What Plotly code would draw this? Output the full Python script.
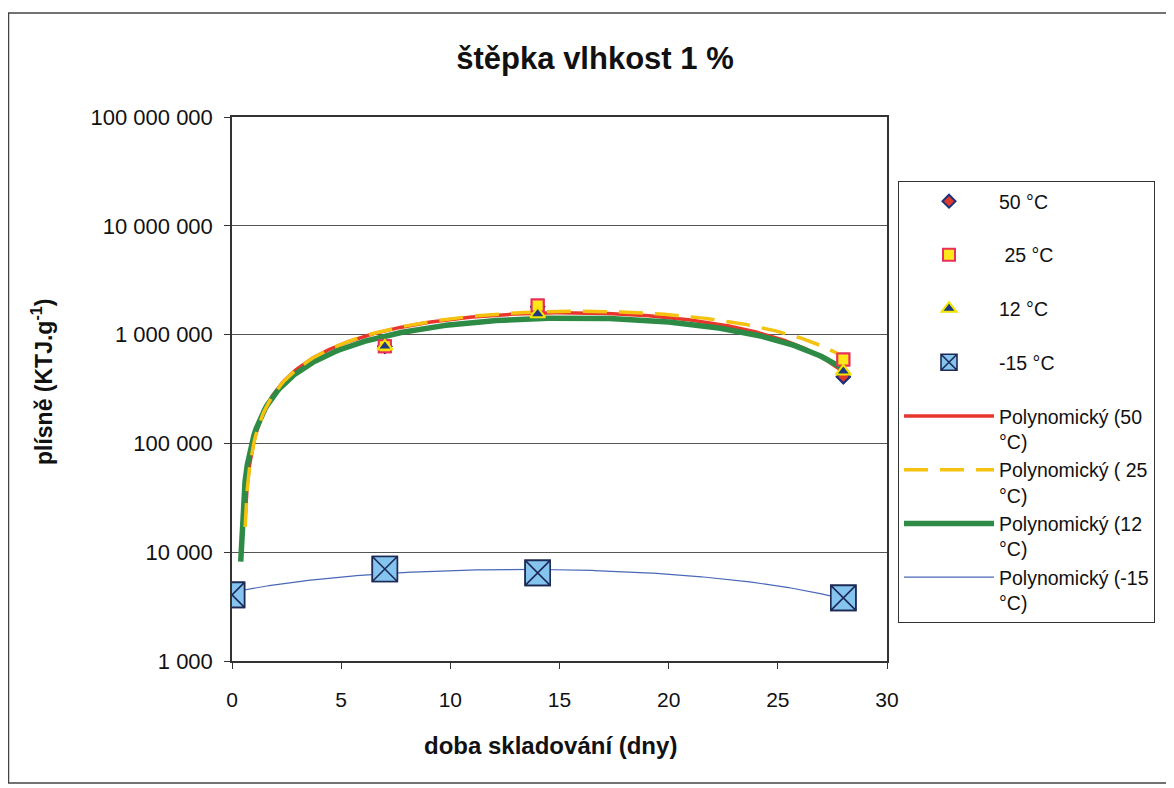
import numpy as np
import plotly.graph_objects as go

# ---- data ----
days = [0, 7, 14, 28]
v50 = [4000, 780000, 1800000, 410000]
v25 = [4000, 780000, 1850000, 590000]
v12 = [4000, 780000, 1550000, 460000]
vm15 = [4050, 7000, 6450, 3800]

series_names = ["50 °C<br> ", " 25 °C<br> ", "12 °C<br> ", "-15 °C<br> "]
trend_names = ["Polynomický (50<br>°C)", "Polynomický ( 25<br>°C)",
               "Polynomický (12<br>°C)", "Polynomický (-15<br>°C)"]
ytick_vals = [1e3, 1e4, 1e5, 1e6, 1e7, 1e8]
ytick_text = ["1 000", "10 000", "100 000", "1 000 000", "10 000 000", "100 000 000"]
xtick_vals = [0, 5, 10, 15, 20, 25, 30]

FONT = "Arial, 'Liberation Sans', sans-serif"

# the page body has an 8px margin; work in page pixels and convert
OFF = 8
W, H = 1174 - OFF, 788 - OFF
L, R, T, B = 232, 887, 117, 661  # plot area, page px


def px_x(p):
    return (p - L) / (R - L)


def px_y(p):
    return (B - p) / (B - T)


def trend(xs, ys):
    c = np.polyfit(xs, ys, 2)
    xx = np.linspace(min(xs), max(xs), 281)
    yy = np.polyval(c, xx)
    yy = [v if v > 0 else None for v in yy]
    return xx, yy


m50 = dict(symbol="diamond", size=10, color="#e03a2a", line=dict(color="#22307a", width=2))
m25 = dict(symbol="square", size=12, color="#ffe81a", line=dict(color="#e8305a", width=2))
m12 = dict(symbol="triangle-up", size=13, color="#1f3a80", line=dict(color="#f5e400", width=2))
m15 = dict(symbol="square-x", size=25, color="#86c4f0", line=dict(color="#1c2a55", width=1.6))

fig = go.Figure()

# legend entries for the point series (same data, drawn again on top later)
for vals, nm, mk in [(v50, series_names[0], m50), (v25, series_names[1], m25),
                     (v12, series_names[2], m12), (vm15, series_names[3], m15)]:
    fig.add_trace(go.Scatter(x=days, y=vals, mode="markers", name=nm,
                             legendgroup=nm, marker=mk))

# trend lines
styles = [
    (v50, dict(color="#e8362c", width=3.5, dash="solid")),
    (v25, dict(color="#f5c210", width=3.5, dash="24px,12px")),
    (v12, dict(color="#2e8b45", width=5.5, dash="solid")),
    (vm15, dict(color="#4a68b8", width=1.2, dash="solid")),
]
traces = []
for i, (vals, ln) in enumerate(styles):
    xx, yy = trend(days, vals)
    traces.append(go.Scatter(x=xx, y=yy, mode="lines", name=trend_names[i],
                             legendgroup="t%d" % i, legendrank=1005 + i,
                             line=ln, connectgaps=False, hoverinfo="skip"))
for i in [0, 2, 1, 3]:  # green over red, yellow over green
    fig.add_trace(traces[i])

# markers on top of the lines
for vals, mk in [(v50, m50), (v25, m25), (v12, m12), (vm15, m15)]:
    fig.add_trace(go.Scatter(x=days, y=vals, mode="markers", marker=mk,
                             showlegend=False, hoverinfo="skip"))

fig.update_layout(
    width=W, height=H,
    margin=dict(l=L - OFF, r=W - (R - OFF), t=T - OFF, b=H - (B - OFF)),
    paper_bgcolor="white", plot_bgcolor="white",
    font=dict(family=FONT, size=20, color="#111111"),
    title=dict(text="<b>štěpka vlhkost 1 %</b>", x=(595 - OFF) / W, xanchor="center",
               y=1 - (58 - OFF) / H, yanchor="middle", yref="container",
               font=dict(size=31, family=FONT, color="#111111")),
    showlegend=True,
    legend=dict(x=px_x(898), xanchor="left", y=px_y(181), yanchor="top",
                bordercolor="#333333", borderwidth=1, bgcolor="white",
                font=dict(size=19.5, family=FONT), traceorder="grouped",
                tracegroupgap=0, itemwidth=90, valign="top",
                itemsizing="trace", entrywidth=280, entrywidthmode="pixels"),
    xaxis=dict(range=[0, 30], tickvals=xtick_vals, showgrid=False,
               ticks="outside", ticklen=6, tickcolor="#333333",
               showline=True, linecolor="#333333", linewidth=1.5, mirror=True,
               ticklabelstandoff=13, zeroline=False,
               tickfont=dict(size=21, family=FONT)),
    yaxis=dict(type="log", range=[3, 8], tickvals=ytick_vals, ticktext=ytick_text,
               showgrid=True, gridcolor="#555555", gridwidth=1,
               ticks="outside", ticklen=6, tickcolor="#333333",
               showline=True, linecolor="#333333", linewidth=1.5, mirror=True,
               ticklabelstandoff=7, zeroline=False,
               tickfont=dict(size=22, family=FONT)),
)

# axis titles
fig.add_annotation(text="<b>doba skladování (dny)</b>", xref="paper", yref="paper",
                   x=px_x(550), y=px_y(745), xanchor="center", yanchor="middle",
                   showarrow=False, font=dict(size=24, family=FONT, color="#111111"))
fig.add_annotation(text="<b>plísně (KTJ.g<sup>-1</sup>)</b>", xref="paper", yref="paper",
                   x=px_x(42), y=px_y(382), xanchor="center", yanchor="middle",
                   showarrow=False, textangle=-90,
                   font=dict(size=23, family=FONT, color="#111111"))

# outer chart frame
fig.add_shape(type="rect", xref="paper", yref="paper",
              x0=px_x(8.5), x1=px_x(1172), y0=px_y(783), y1=px_y(13),
              line=dict(color="#444444", width=1.5), layer="below")

fig.write_html("out.html")
